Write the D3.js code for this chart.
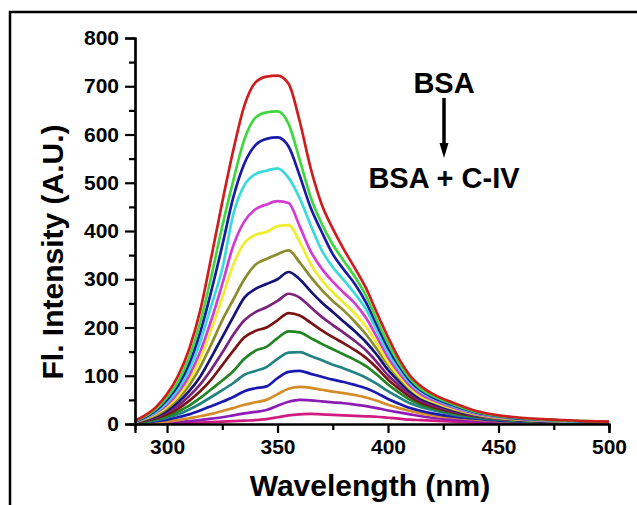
<!DOCTYPE html>
<html>
<head>
<meta charset="utf-8">
<script src="https://cdn.jsdelivr.net/npm/d3@7"></script>
<style>
  html, body { margin: 0; padding: 0; background: #fff; }
  svg { display: block; }
  text { font-family: "Liberation Sans", Arial, sans-serif; font-weight: bold; fill: #000; }
</style>
</head>
<body>
<svg id="chart" width="637" height="505"></svg>
<script>
// Emission wavelengths (nm) at which each spectrum is sampled
const wavelengths = [286,290,295,300,305,310,315,320,325,330,335,340,345,350,355,360,365,370,375,380,385,390,395,400,405,410,415,420,430,440,450,460,470,480,490,500];

// Fluorescence intensity (A.U.) for each titration step, from BSA alone down to BSA + C-IV
const s01 = [8,18,35,62,100,155,235,345,460,568,660,708,720,722,705,628,530,455,405,362,323,282,230,180,135,100,78,63,43,27,18,13,10,8,6,5];
const s02 = [7,16,31,55,88,138,210,305,410,505,590,635,646,648,622,548,470,415,372,338,305,266,215,167,126,94,72,59,40,25,17,12,9,7,6,5];
const s03 = [6,14,28,50,80,125,190,275,370,470,540,578,591,594,575,515,448,398,352,320,290,252,205,158,120,89,69,56,38,24,16,11,9,7,5,4];
const s04 = [6,13,25,45,72,112,170,245,322,435,495,518,525,530,510,468,412,360,325,298,270,238,193,148,113,85,66,54,36,23,15,11,8,6,5,4];
const s05 = [5,12,23,40,65,100,150,215,290,370,420,445,455,462,458,410,358,322,295,272,250,220,180,138,106,79,61,50,33,21,14,10,7,6,5,4];
const s06 = [5,11,21,36,58,90,135,195,262,330,375,392,398,410,412,378,332,298,273,251,229,202,167,128,99,74,57,47,31,20,13,9,7,6,5,4];
const s07 = [4,10,18,32,52,80,118,165,215,258,300,330,342,352,360,335,305,278,255,235,212,186,155,122,95,72,56,46,30,19,12,9,7,5,4,4];
const s08 = [4,9,16,28,45,68,98,138,180,222,262,280,290,300,315,300,275,252,232,212,192,170,143,112,88,67,52,43,28,18,12,8,6,5,4,3];
const s09 = [3,8,14,24,38,58,82,113,148,185,215,232,242,255,270,262,242,222,205,189,172,153,128,101,80,61,48,39,26,17,11,8,6,5,4,3];
const s10 = [3,7,12,20,32,48,68,92,122,152,180,193,200,215,230,225,210,194,180,167,153,137,116,92,73,56,44,36,24,16,11,8,6,5,4,3];
const s11 = [2,5,10,16,26,38,54,72,90,110,135,152,160,178,192,190,178,166,155,144,133,120,102,82,65,50,40,33,22,15,10,7,5,4,3,3];
const s12 = [2,4,8,13,20,30,42,56,70,85,102,110,118,135,148,149,141,132,123,115,106,96,83,68,55,43,35,29,19,13,9,6,5,4,3,3];
const s13 = [1,3,6,9,14,20,28,37,46,56,68,74,78,95,108,110,104,98,92,87,81,74,64,52,42,33,27,22,15,11,7,5,4,3,3,2];
const s14 = [1,2,3,5,8,12,16,21,27,33,40,45,50,62,73,77,75,71,67,64,60,55,48,40,33,27,22,18,13,9,6,4,3,3,2,2];
const s15 = [0,1,2,3,4,6,8,11,14,18,22,25,29,38,46,50,49,47,45,43,40,37,33,28,24,20,16,13,9,6,4,3,2,2,2,1];
const s16 = [0,0,1,1,1,2,3,4,5,6,7,8,10,14,18,20,21,20,19,18,17,16,15,13,11,9,8,7,5,3,2,2,1,1,1,1];

const seriesList = [s01,s02,s03,s04,s05,s06,s07,s08,s09,s10,s11,s12,s13,s14,s15,s16];
const seriesColors = ["#d01c1c","#3ed83e","#1a1aaa","#3adada","#d23cd2","#eeee2c","#8c8c2c","#141478",
                      "#7d237d","#7a1414","#228522","#238282","#1a1ab0","#d48c28","#8c1cb4","#d01c80"];

const xMajor = [300,350,400,450,500];
const xMinor = [325,375,425,475];
const yMajor = [0,100,200,300,400,500,600,700,800];
const yMinor = [50,150,250,350,450,550,650,750];

const svg = d3.select("#chart");

// outer frame (open to the right and bottom edges of the page)
svg.append("path")
  .attr("d", "M10,700 L10,12 L700,12")
  .attr("fill", "none").attr("stroke", "#000").attr("stroke-width", 2.5);

const x = d3.scaleLinear().domain([285.5, 500]).range([135, 609]);
const y = d3.scaleLinear().domain([0, 800]).range([424, 38]);

// spectra
svg.append("clipPath").attr("id", "plotClip")
  .append("rect").attr("x", 135).attr("y", 0).attr("width", 480).attr("height", 426);

const line = d3.line()
  .x((d, i) => x(wavelengths[i]))
  .y(d => y(d))
  .curve(d3.curveMonotoneX);

svg.append("g").attr("clip-path", "url(#plotClip)")
  .selectAll("path")
  .data(seriesList.map((s, i) => ({ values: s, color: seriesColors[i] })).reverse())
  .join("path")
  .attr("d", d => line(d.values))
  .attr("fill", "none")
  .attr("stroke", d => d.color)
  .attr("stroke-width", 2.7)
  .attr("stroke-linejoin", "round");

// axes
const xAxis = svg.append("g").attr("transform", "translate(0,424)")
  .call(d3.axisBottom(x).tickValues(xMajor).tickSize(9).tickPadding(6).tickFormat(d3.format("d")));
svg.append("g").attr("transform", "translate(0,424)")
  .call(d3.axisBottom(x).tickValues(xMinor).tickSize(6).tickFormat(""));
svg.append("g").attr("transform", "translate(135,0)")
  .call(d3.axisLeft(y).tickValues(yMajor).tickSize(10).tickPadding(6).tickFormat(d3.format("d")));
svg.append("g").attr("transform", "translate(135,0)")
  .call(d3.axisLeft(y).tickValues(yMinor).tickSize(6).tickFormat(""));

svg.selectAll(".domain").attr("stroke", "#000").attr("stroke-width", 2.2);
svg.selectAll(".tick line").attr("stroke", "#000").attr("stroke-width", 2.2);
svg.selectAll(".tick text")
  .attr("font-size", 21)
  .attr("font-family", "Liberation Sans, Arial, sans-serif")
  .attr("font-weight", "bold")
  .attr("fill", "#000");
xAxis.selectAll(".tick text").attr("dy", "0.71em");

// axis titles
svg.append("text")
  .attr("x", 370).attr("y", 496)
  .attr("text-anchor", "middle")
  .attr("font-size", 30)
  .text("Wavelength (nm)");

svg.append("text")
  .attr("transform", "translate(63,252) rotate(-90)")
  .attr("text-anchor", "middle")
  .attr("font-size", 30)
  .text("Fl. Intensity (A.U.)");

// titration annotation
svg.append("text")
  .attr("x", 444).attr("y", 93)
  .attr("text-anchor", "middle")
  .attr("font-size", 29)
  .text("BSA");

svg.append("line")
  .attr("x1", 444).attr("y1", 98).attr("x2", 444).attr("y2", 146)
  .attr("stroke", "#000").attr("stroke-width", 3.5);
svg.append("path")
  .attr("d", "M439.5,143 L448.5,143 L444,158 Z")
  .attr("fill", "#000");

svg.append("text")
  .attr("x", 444).attr("y", 188)
  .attr("text-anchor", "middle")
  .attr("font-size", 29)
  .text("BSA + C-IV");
</script>
</body>
</html>
